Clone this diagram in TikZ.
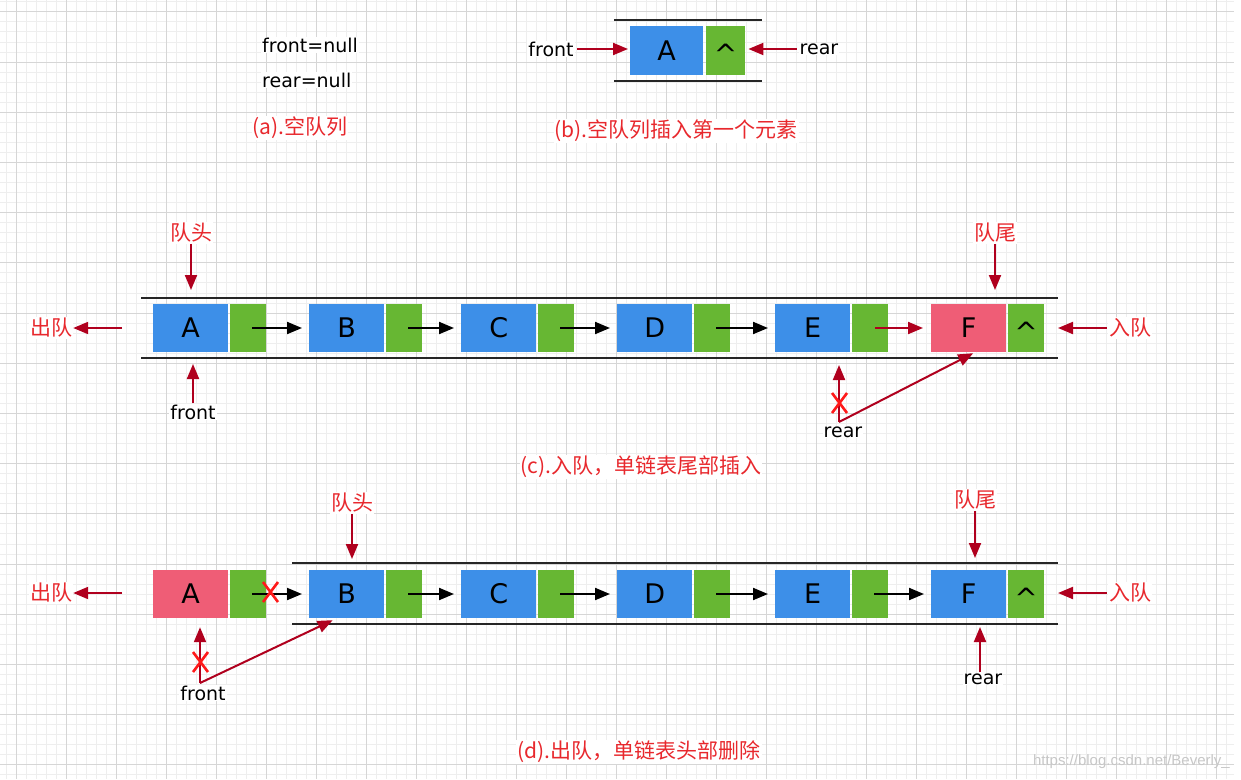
\documentclass[tikz,border=0pt]{standalone}
\usepackage{fontspec}
\setmainfont{DejaVu Sans}
\newfontfamily\cjk{Noto Sans CJK SC}
\newfontfamily\wmfont{Liberation Sans}
\usetikzlibrary{arrows.meta}
\definecolor{qblue}{HTML}{3D8FE8}
\definecolor{qgreen}{HTML}{67B733}
\definecolor{qpink}{HTML}{EF5D76}
\definecolor{qred}{HTML}{E8282D}
\definecolor{qdark}{HTML}{B0001E}
\definecolor{xred}{HTML}{FF1A1A}
\definecolor{gridminor}{HTML}{EEEEEE}
\definecolor{gridmajor}{HTML}{D6D6D6}
\newcommand{\nullmark}{\smash{\raisebox{-14pt}{\textasciicircum}}}
\begin{document}
\begin{tikzpicture}[x=1pt,y=-1pt,
  data/.style={rectangle, inner sep=0pt, minimum width=75pt, minimum height=48pt, fill=qblue, font=\fontsize{27}{27}\selectfont},
  ptr/.style={rectangle, inner sep=0pt, minimum width=36pt, minimum height=48pt, fill=qgreen, font=\fontsize{28}{28}\selectfont},
  txt/.style={font=\fontsize{19}{19}\selectfont, fill=white, inner sep=1pt},
  cn/.style={font=\fontsize{21}{21}\selectfont\cjk, text=qred, fill=white, inner sep=1pt},
  capt/.style={font=\fontsize{21}{21}\selectfont\cjk, text=qred, fill=white, inner sep=1pt},
  rarrow/.style={draw=qdark, line width=2pt, -{Triangle[length=15pt,width=12pt]}},
  barrow/.style={draw=black, line width=2pt, -{Triangle[length=15pt,width=12pt]}},
  rail/.style={draw=black!85, line width=2pt},
  xmark/.style={draw=xred, line width=2.6pt}
]
\useasboundingbox (0,0) rectangle (1241,779);
\fill[white] (0,0) rectangle (1241,779);
% grid
\foreach \i in {0,...,122} { \draw[gridminor, line width=0.8pt] ({6.7+10*\i},0) -- ({6.7+10*\i},779); }
\foreach \i in {0,...,77} { \draw[gridminor, line width=0.8pt] (0,{1.76+10.04*\i}) -- (1234,{1.76+10.04*\i}); }
\foreach \i in {0,...,24} { \draw[gridmajor, line width=1pt] ({16.7+50*\i},0) -- ({16.7+50*\i},779); }
\foreach \i in {0,...,15} { \draw[gridmajor, line width=1pt] (0,{11.8+50.2*\i}) -- (1234,{11.8+50.2*\i}); }

% ---------- (a)
\node[txt, anchor=west] (fnull) at (261,45) {front=null};
\node[txt, anchor=west] (rnull) at (261,80) {rear=null};
\node[capt] (capa) at (300,128) {(a).空队列};

% ---------- (b)
\node[data, minimum width=73pt, minimum height=49pt, anchor=west] (bA) at (630,50.5) {A};
\node[ptr, minimum width=39pt, minimum height=49pt, anchor=west] (bA-p) at (706,50.5) {\nullmark};
\coordinate (bt1) at (614,20); \coordinate (bt2) at (762,20);
\coordinate (bb1) at (614,81); \coordinate (bb2) at (762,81);
\draw[rail] (bt1) -- (bt2);
\draw[rail] (bb1) -- (bb2);
\node[txt] (bfront) at (551,49) {front};
\node[txt] (brear) at (819,49) {rear};
\draw[rarrow, shorten <=2pt, shorten >=2pt] (bfront.east) -- (bA.west |- bfront.east);
\draw[rarrow, shorten <=2pt, shorten >=3pt] (brear.west) -- (bA-p.east |- brear.west);
\node[capt] (capb) at (676,131) {(b).空队列插入第一个元素};

% ---------- (c)
\foreach \n/\x in {A/153,B/309,C/461,D/617,E/775} {
  \node[data, anchor=west] (c\n) at (\x,328) {\n};
  \node[ptr, anchor=west] (c\n-p) at (\x+77,328) {};
}
\node[data, fill=qpink, anchor=west] (cF) at (931,328) {F};
\node[ptr, anchor=west] (cF-p) at (1008,328) {\nullmark};
\coordinate (ctl) at (141,298); \coordinate (ctr) at (1058,298);
\coordinate (cbl) at (141,358); \coordinate (cbr) at (1058,358);
\draw[rail] (ctl) -- (ctr);
\draw[rail] (cbl) -- (cbr);
\foreach \a/\b in {A/B,B/C,C/D,D/E} {
  \draw[barrow] ([xshift=-14pt]c\a-p.east) -- ([xshift=-7pt]c\b.west);
}
\draw[rarrow] ([xshift=-13pt]cE-p.east) -- ([xshift=-8pt]cF.west);
\node[cn] (chead) at (191,233) {队头};
\draw[rarrow, shorten >=8pt] (chead.south) -- (chead.south |- ctl);
\node[txt] (cfront) at (193,412) {front};
\draw[rarrow, shorten >=6pt] (cfront.north) -- (cfront.north |- cbl);
\node[cn] (cout) at (51,328) {出队};
\coordinate (coutS) at (122,328);
\draw[rarrow] (coutS) -- (cout.east);
\node[cn] (ctail) at (995,233) {队尾};
\draw[rarrow, shorten >=8pt] (ctail.south) -- (ctail.south |- ctr);
\node[cn] (cin) at (1130,328) {入队};
\draw[rarrow, shorten <=1pt] (cin.west) -- (ctr |- cin.west);
\node[txt] (crear) at (843,432) {rear};
\coordinate (crj) at (839,422);
\draw[rarrow, shorten >=7pt] (crj) -- (crj |- cbl);
\draw[rarrow] (crj) -- ([xshift=4.5pt,yshift=-1pt]cF.south);
\draw[xmark] (832,393) -- (847,413) (847,393) -- (832,413);
\node[capt] (capc) at (641,467) {(c).入队，单链表尾部插入};

% ---------- (d)
\node[data, fill=qpink, anchor=west] (dA) at (153,594) {A};
\node[ptr, anchor=west] (dA-p) at (230,594) {};
\foreach \n/\x in {B/309,C/461,D/617,E/775} {
  \node[data, anchor=west] (d\n) at (\x,594) {\n};
  \node[ptr, anchor=west] (d\n-p) at (\x+77,594) {};
}
\node[data, anchor=west] (dF) at (931,594) {F};
\node[ptr, anchor=west] (dF-p) at (1008,594) {\nullmark};
\coordinate (dtl) at (292,563); \coordinate (dtr) at (1058,563);
\coordinate (dbl) at (292,624); \coordinate (dbr) at (1058,624);
\draw[rail] (dtl) -- (dtr);
\draw[rail] (dbl) -- (dbr);
\foreach \a/\b in {A/B,B/C,C/D,D/E,E/F} {
  \draw[barrow] ([xshift=-14pt]d\a-p.east) -- ([xshift=-7pt]d\b.west);
}
\draw[xmark] (263,582) -- (278,602) (278,582) -- (263,602);
\node[cn] (dhead) at (352,503) {队头};
\draw[rarrow, shorten >=4pt] (dhead.south) -- (dhead.south |- dtl);
\node[txt] (dfront) at (203,693) {front};
\coordinate (dfj) at (200,683);
\draw[rarrow, shorten >=9pt] (dfj) -- (dfj |- dA.south);
\draw[rarrow] (dfj) -- ([xshift=-14pt,yshift=-2pt]dB.south);
\draw[xmark] (193,652) -- (208,672) (208,652) -- (193,672);
\node[cn] (dout) at (51,593) {出队};
\coordinate (doutS) at (122,593);
\draw[rarrow] (doutS) -- (dout.east);
\node[cn] (dtail) at (975,500) {队尾};
\draw[rarrow, shorten >=5pt] (dtail.south) -- (dtail.south |- dtr);
\node[txt] (drear) at (983,679) {rear};
\draw[rarrow, shorten >=3pt] ([xshift=-3pt]drear.north) -- ([xshift=-3pt]drear.north |- dbr);
\node[cn] (din) at (1130,593) {入队};
\draw[rarrow, shorten <=1pt] (din.west) -- (dtr |- din.west);
\node[capt] (capd) at (639,752) {(d).出队，单链表头部删除};

% watermark
\node[anchor=east, inner sep=0pt, font=\wmfont\fontsize{15}{15}\selectfont, text=black!22] (wm) at (1230,762) {https://blog.csdn.net/Beverly\_};
\end{tikzpicture}
\end{document}
